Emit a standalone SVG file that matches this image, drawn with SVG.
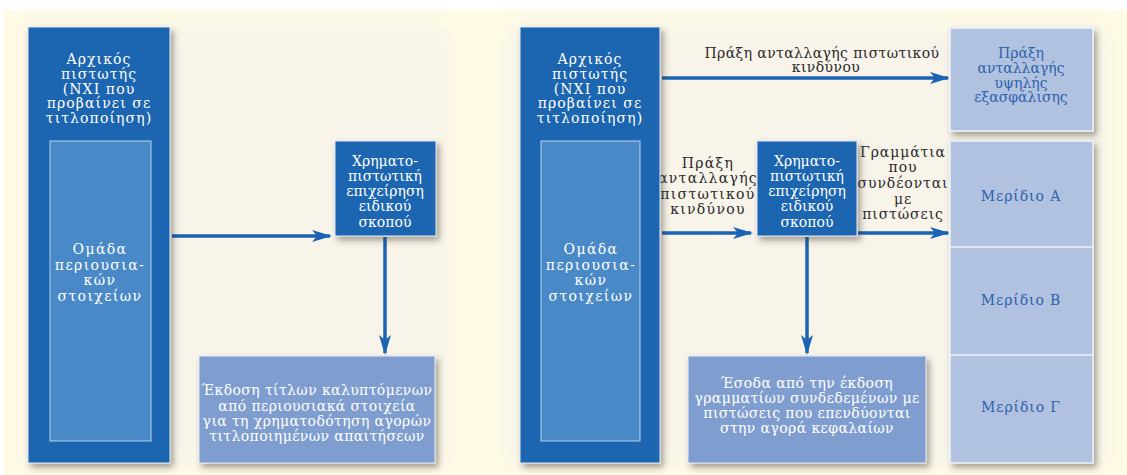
<svg xmlns="http://www.w3.org/2000/svg" width="1127" height="475" viewBox="0 0 1127 475">
  <defs>
    <filter id="shadow" x="-10%" y="-10%" width="125%" height="125%">
      <feDropShadow dx="3" dy="4" stdDeviation="3" flood-color="#3a3320" flood-opacity="0.45"/>
    </filter>
    <filter id="soft" x="-5%" y="-5%" width="110%" height="110%">
      <feGaussianBlur stdDeviation="10"/>
    </filter>
    <marker id="arrow" viewBox="0 0 20 12" refX="18" refY="6" markerWidth="20" markerHeight="12" markerUnits="userSpaceOnUse" orient="auto">
      <path d="M0,0 L20,6 L0,12 L5,6 Z" fill="#1c63b3"/>
    </marker>
  </defs>
  <style>
    .dark { fill: #1f65b0; stroke: #dfe8f4; stroke-width: 1; filter: url(#shadow); }
    .inner { fill: #4a89c7; stroke: #b9cfe9; stroke-width: 1; }
    .mid { fill: #7f9ecf; stroke: #e4ebf6; stroke-width: 1; filter: url(#shadow); }
    .pale { fill: #b1c1e0; stroke: #eef2fa; stroke-width: 1.5; filter: url(#shadow); }
    text { font-family: "DejaVu Serif", "Liberation Serif", serif; font-size: 14px; text-anchor: middle; }
    .wt { fill: #ffffff; }
    .bt { fill: #2d62ad; }
    .kt { fill: #2a2a2a; }
    .title { letter-spacing: 1.1px; }
    .pool { letter-spacing: 1.4px; }
    .note { letter-spacing: 0.4px; }
    .side { letter-spacing: 1.3px; }
    .side2 { letter-spacing: 0.9px; }
    .tr { letter-spacing: 0.9px; }
    .conn { stroke: #1c63b3; stroke-width: 3.5; fill: none; marker-end: url(#arrow); }
  </style>

  <!-- page background -->
  <rect x="0" y="0" width="1127" height="475" fill="#ffffff"/>
  <rect x="4" y="10" width="1123" height="465" fill="#fffbe4"/>
  <rect x="22" y="26" width="428" height="440" fill="#f8f4ea" filter="url(#soft)"/>
  <rect x="505" y="26" width="605" height="440" fill="#f8f4ea" filter="url(#soft)"/>

  <!-- connectors -->
  <g id="connectors">
    <line class="conn" x1="172" y1="236" x2="330" y2="236"/>
    <line class="conn" x1="385" y1="237" x2="385" y2="353"/>
    <line class="conn" x1="662" y1="78" x2="948" y2="78"/>
    <line class="conn" x1="662" y1="233" x2="751" y2="233"/>
    <line class="conn" x1="858" y1="233" x2="948" y2="233"/>
    <line class="conn" x1="807" y1="237" x2="807" y2="353"/>
    <text class="kt note" x="822" y="58">Πράξη ανταλλαγής πιστωτικού</text>
    <text class="kt note" x="826" y="72">κινδύνου</text>
    <text class="kt side" x="708" y="168">Πράξη</text>
    <text class="kt side" x="708" y="183">ανταλλαγής</text>
    <text class="kt side" x="708" y="199">πιστωτικού</text>
    <text class="kt side" x="708" y="214">κινδύνου</text>
    <text class="kt side2" x="903" y="157">Γραμμάτια</text>
    <text class="kt side2" x="903" y="172">που</text>
    <text class="kt side2" x="903" y="188">συνδέονται</text>
    <text class="kt side2" x="903" y="204">με</text>
    <text class="kt side2" x="903" y="219">πιστώσεις</text>
  </g>

  <!-- left scheme -->
  <g id="originator-left">
    <rect class="dark" x="28" y="27" width="142" height="436"/>
    <text class="wt title" x="99" y="64">Αρχικός</text>
    <text class="wt title" x="99" y="79">πιστωτής</text>
    <text class="wt title" x="99" y="94">(NXI που</text>
    <text class="wt title" x="99" y="108">προβαίνει σε</text>
    <text class="wt title" x="99" y="123">τιτλοποίηση)</text>
  </g>
  <g id="pool-left">
    <rect class="inner" x="50" y="141" width="101" height="300"/>
    <text class="wt pool" x="100" y="254">Ομάδα</text>
    <text class="wt pool" x="100" y="270">περιουσια-</text>
    <text class="wt pool" x="100" y="285">κών</text>
    <text class="wt pool" x="100" y="301">στοιχείων</text>
  </g>
  <g id="spv-left">
    <rect class="dark" x="335" y="141" width="101" height="95"/>
    <text class="wt" x="385" y="166">Χρηματο-</text>
    <text class="wt" x="385" y="181">πιστωτική</text>
    <text class="wt" x="385" y="196">επιχείρηση</text>
    <text class="wt" x="385" y="211">ειδικού</text>
    <text class="wt" x="385" y="227">σκοπού</text>
  </g>
  <g id="issue-left">
    <rect class="mid" x="199" y="356" width="236" height="107"/>
    <text class="wt note" x="317" y="395">Έκδοση τίτλων καλυπτόμενων</text>
    <text class="wt note" x="317" y="411">από περιουσιακά στοιχεία</text>
    <text class="wt note" x="317" y="426">για τη χρηματοδότηση αγορών</text>
    <text class="wt note" x="317" y="441">τιτλοποιημένων απαιτήσεων</text>
  </g>

  <!-- right scheme -->
  <g id="originator-right">
    <rect class="dark" x="520" y="27" width="140" height="436"/>
    <text class="wt title" x="590" y="64">Αρχικός</text>
    <text class="wt title" x="590" y="79">πιστωτής</text>
    <text class="wt title" x="590" y="94">(NXI που</text>
    <text class="wt title" x="590" y="108">προβαίνει σε</text>
    <text class="wt title" x="590" y="123">τιτλοποίηση)</text>
  </g>
  <g id="pool-right">
    <rect class="inner" x="541" y="141" width="99" height="300"/>
    <text class="wt pool" x="591" y="254">Ομάδα</text>
    <text class="wt pool" x="591" y="270">περιουσια-</text>
    <text class="wt pool" x="591" y="285">κών</text>
    <text class="wt pool" x="591" y="301">στοιχείων</text>
  </g>
  <g id="spv-right">
    <rect class="dark" x="757" y="141" width="100" height="95"/>
    <text class="wt" x="807" y="166">Χρηματο-</text>
    <text class="wt" x="807" y="181">πιστωτική</text>
    <text class="wt" x="807" y="196">επιχείρηση</text>
    <text class="wt" x="807" y="211">ειδικού</text>
    <text class="wt" x="807" y="227">σκοπού</text>
  </g>
  <g id="proceeds-right">
    <rect class="mid" x="688" y="356" width="238" height="107"/>
    <text class="wt note" x="807" y="388">Έσοδα από την έκδοση</text>
    <text class="wt note" x="807" y="403">γραμματίων συνδεδεμένων με</text>
    <text class="wt note" x="807" y="418">πιστώσεις που επενδύονται</text>
    <text class="wt note" x="807" y="433">στην αγορά κεφαλαίων</text>
  </g>
  <g id="super-senior-swap">
    <rect class="pale" x="950" y="28" width="143" height="103"/>
    <text class="bt" x="1021" y="58">Πράξη</text>
    <text class="bt" x="1021" y="73">ανταλλαγής</text>
    <text class="bt" x="1021" y="88">υψηλής</text>
    <text class="bt" x="1021" y="102">εξασφάλισης</text>
  </g>
  <g id="tranches">
    <rect class="pale" x="950" y="141" width="143" height="322"/>
    <line x1="950" y1="247" x2="1093" y2="247" stroke="#eef2fa" stroke-width="1.5"/>
    <line x1="950" y1="355" x2="1093" y2="355" stroke="#eef2fa" stroke-width="1.5"/>
    <text class="bt tr" x="1021" y="201">Μερίδιο Α</text>
    <text class="bt tr" x="1021" y="305">Μερίδιο Β</text>
    <text class="bt tr" x="1021" y="412">Μερίδιο Γ</text>
  </g>
</svg>
